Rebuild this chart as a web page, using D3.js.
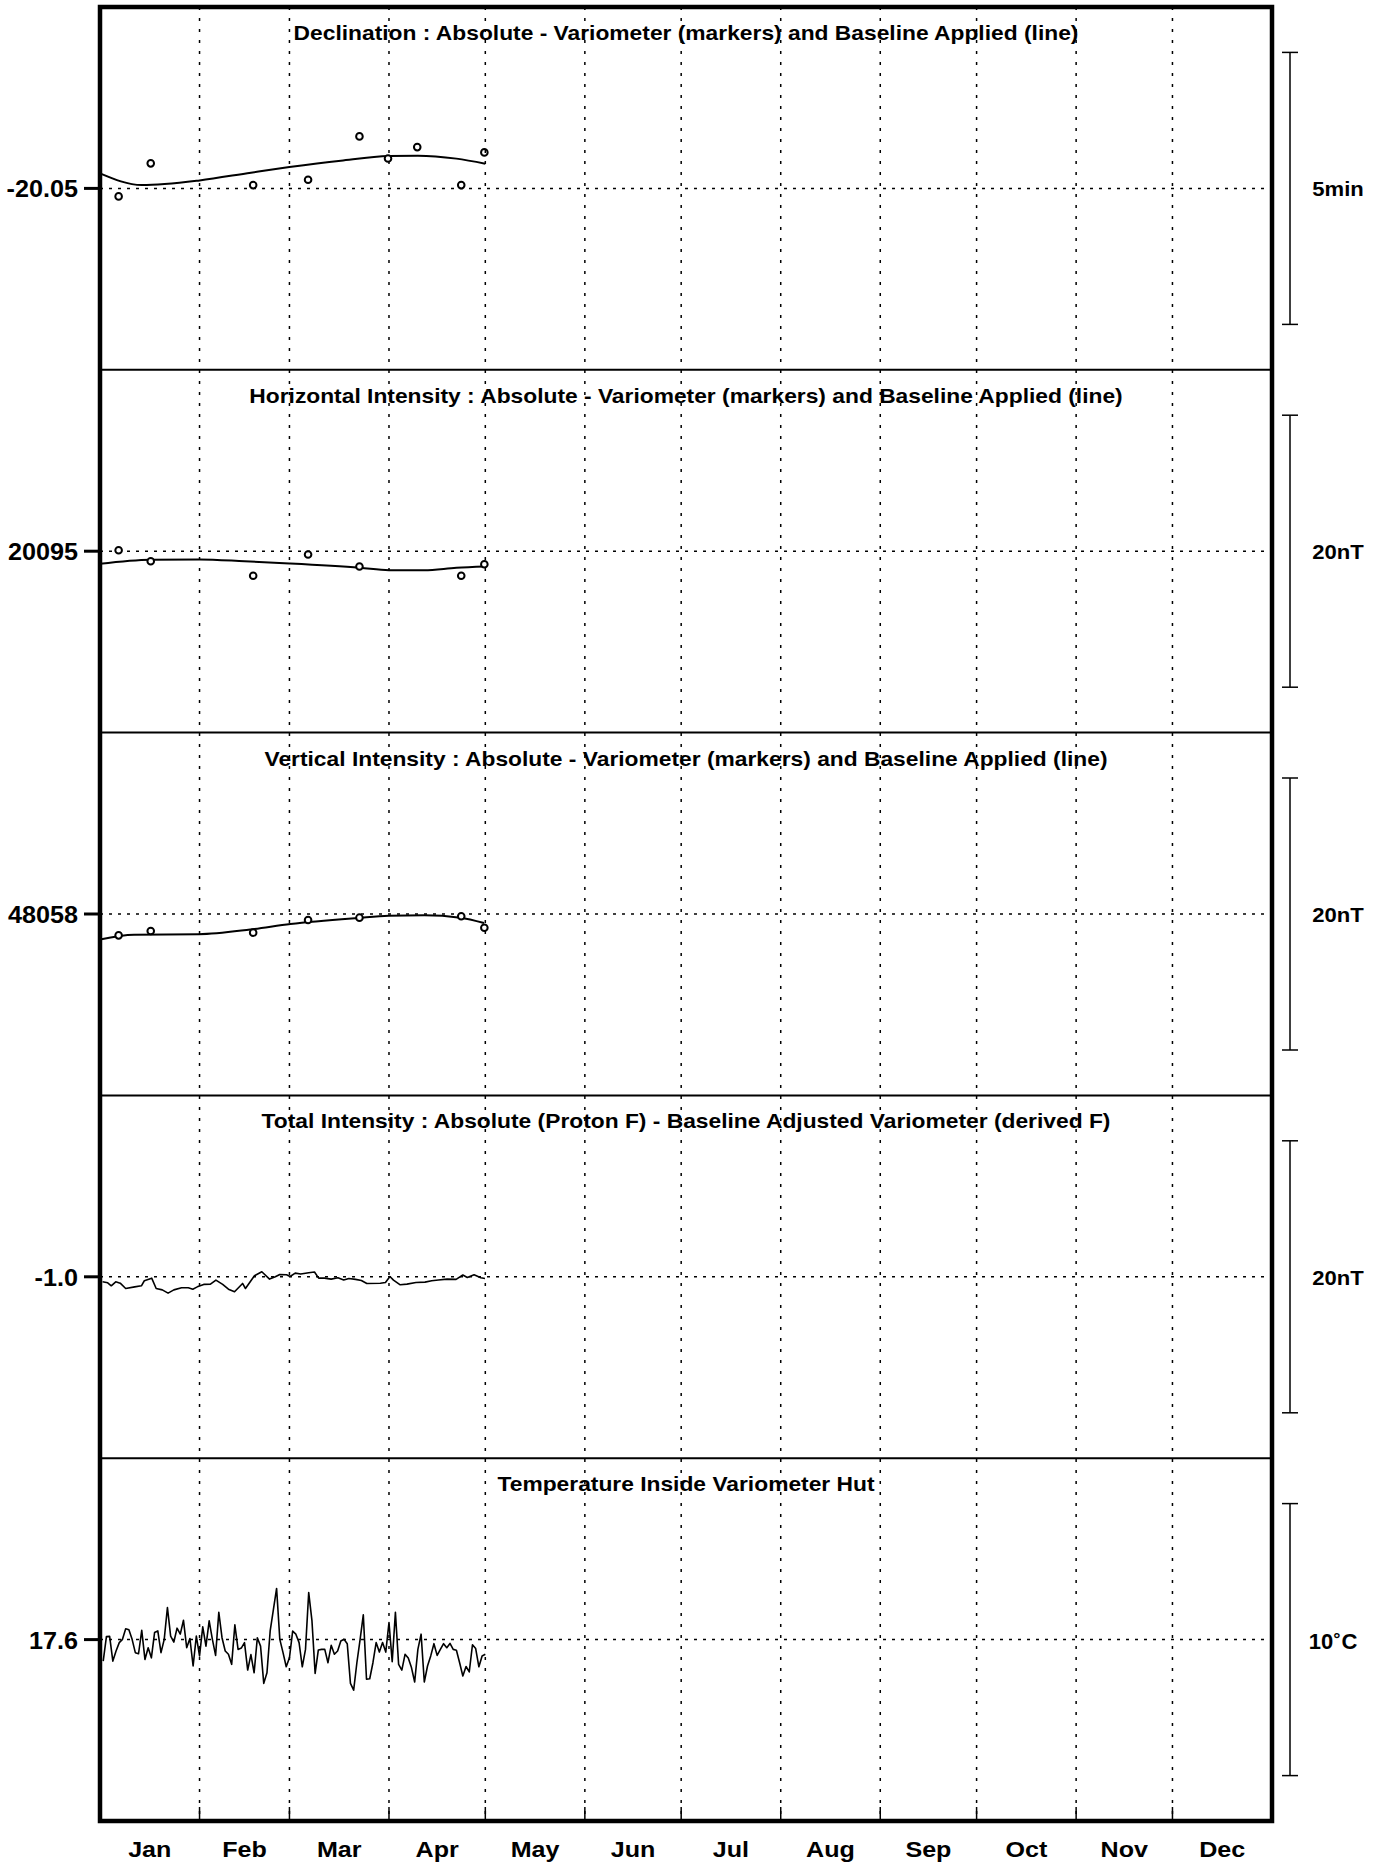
<!DOCTYPE html>
<html>
<head>
<meta charset="utf-8">
<script src="https://cdn.jsdelivr.net/npm/d3@7"></script>
<style>
  body { margin: 0; background: #fff; }
  svg text { font-family: "Liberation Sans", Arial, sans-serif; font-weight: bold; fill: #000; }
</style>
</head>
<body>
<svg id="chart" width="1388" height="1863"></svg>
<script>
// month names along the bottom
var months = ["Jan","Feb","Mar","Apr","May","Jun","Jul","Aug","Sep","Oct","Nov","Dec"]

var panelTitles = [
  "Declination : Absolute - Variometer (markers) and Baseline Applied (line)",
  "Horizontal Intensity : Absolute - Variometer (markers) and Baseline Applied (line)",
  "Vertical Intensity : Absolute - Variometer (markers) and Baseline Applied (line)",
  "Total Intensity : Absolute (Proton F) - Baseline Adjusted Variometer (derived F)",
  "Temperature Inside Variometer Hut"
]
var refValues = [-20.05, 20095, 48058, -1.0, 17.6]
var refLabels = ["-20.05", "20095", "48058", "-1.0", "17.6"]
var barLabels = ["5min", "20nT", "20nT", "20nT", "10°C"]
var barSpans = [5/60, 20, 20, 20, 10]   // degrees, nT, nT, nT, degC

// declination (degrees), day of year
var declDays = [5.8, 15.8, 47.7, 64.8, 80.8, 89.7, 98.8, 112.5, 119.7]
var declAbs = [-20.05245, -20.04233, -20.04899, -20.04733, -20.03407, -20.04082, -20.03735, -20.04899, -20.03897]
var declBaseDays = [0, 13, 31, 47, 59, 75, 90, 99, 111, 120]
var declBase = [-20.04540, -20.04898, -20.04755, -20.04518, -20.04347, -20.04150, -20.04008, -20.03997, -20.04088, -20.04242]

// H and Z (nT)
var fieldDays = [5.8, 15.8, 47.7, 64.8, 80.8, 112.5, 119.7]
var horizAbs = [20095.07, 20094.26, 20093.19, 20094.76, 20093.88, 20093.19, 20094.04]
var horizBaseDays = [0, 15.8, 31, 45, 59, 81, 90, 101, 111, 120]
var horizBase = [20094.07, 20094.37, 20094.39, 20094.26, 20094.10, 20093.78, 20093.60, 20093.60, 20093.78, 20093.87]

var vertAbs = [48056.43, 48056.75, 48056.63, 48057.56, 48057.73, 48057.83, 48056.99]
var vertBaseDays = [0, 10.6, 30.8, 46.8, 59.3, 80.2, 89.9, 101, 112.2, 119.6]
var vertBase = [48056.13, 48056.48, 48056.51, 48056.86, 48057.27, 48057.71, 48057.87, 48057.90, 48057.73, 48057.34]

// F difference (nT)
var fDays = [0.8, 2.4, 3.5, 4.9, 6.3, 8.0, 10.8, 12.9, 13.8, 16.1, 17.5, 19.4, 21.2, 23.0, 25.4, 27.5, 28.9, 30.3,
  32.3, 34.4, 36.1, 38.2, 40.0, 41.9, 43.5, 44.4, 45.3, 46.4, 48.1, 50.4, 52.8, 54.6, 56.0, 58.1, 59.2, 60.8,
  62.5, 65.0, 66.8, 68.1, 69.9, 72.0, 74.1, 75.9, 77.5, 79.6, 81.4, 83.1, 87.3, 88.9, 90.3, 91.4, 93.5, 95.6,
  98.4, 101.2, 103.3, 105.4, 108.1, 110.9, 113.0, 114.4, 116.5, 118.6, 119.9]
var fDiff = [-1.37, -1.44, -1.66, -1.37, -1.47, -1.86, -1.74, -1.66, -1.29, -1.10, -1.86, -1.96, -2.20, -1.96, -1.81, -1.81, -1.91, -1.74,
  -1.56, -1.54, -1.24, -1.56, -1.91, -2.10, -1.71, -1.49, -1.86, -1.49, -0.92, -0.63, -1.17, -1.00, -0.83, -0.85, -0.98, -0.73,
  -0.80, -0.70, -0.65, -1.10, -1.10, -1.17, -1.07, -1.24, -1.12, -1.19, -1.27, -1.49, -1.47, -1.42, -0.98, -1.24, -1.59, -1.54,
  -1.42, -1.39, -1.29, -1.24, -1.17, -1.19, -0.87, -1.05, -0.85, -1.07, -1.12]

// hut temperature (degC), one value per day from day 1
var temps = [16.81, 17.71, 17.72, 16.81, 17.18, 17.49, 17.61, 18.00, 17.96, 17.61,
  17.12, 17.08, 17.94, 16.87, 17.30, 16.93, 17.86, 17.92, 17.12, 17.61,
  18.78, 17.73, 17.51, 18.02, 17.80, 18.31, 17.30, 17.64, 16.63, 17.73,
  17.00, 18.07, 17.36, 18.29, 17.61, 17.02, 18.60, 17.67, 17.18, 17.06,
  16.69, 18.14, 17.24, 17.29, 17.49, 16.48, 17.05, 16.38, 17.67, 17.36,
  15.99, 16.38, 17.92, 18.70, 19.48, 17.61, 17.12, 16.60, 16.93, 17.91,
  17.80, 17.49, 16.60, 17.24, 19.33, 18.31, 16.36, 17.22, 17.24, 17.24,
  16.75, 17.39, 17.06, 17.18, 17.55, 17.61, 17.45, 15.99, 15.74, 16.75,
  17.60, 18.51, 16.14, 16.16, 16.75, 17.49, 17.14, 17.49, 17.14, 18.23,
  16.79, 18.60, 16.69, 16.48, 17.06, 16.92, 16.57, 16.04, 17.24, 17.80,
  16.04, 16.63, 17.00, 17.45, 17.02, 17.24, 17.45, 17.30, 17.46, 17.24,
  17.21, 16.75, 16.26, 16.61, 16.41, 17.41, 17.27, 16.60, 17.00, 17.06]

var year0 = Date.UTC(2023, 0, 1)
function dayToDate(d) { return new Date(year0 + d * 864e5) }
function pairs(days, vals) { return days.map(function(d, i){ return { date: dayToDate(d), v: vals[i] } }) }

var panels = [
  { markers: pairs(declDays, declAbs), line: pairs(declBaseDays, declBase), smooth: true },
  { markers: pairs(fieldDays, horizAbs), line: pairs(horizBaseDays, horizBase), smooth: true },
  { markers: pairs(fieldDays, vertAbs), line: pairs(vertBaseDays, vertBase), smooth: true },
  { markers: [], line: pairs(fDays, fDiff), smooth: false },
  { markers: [], line: temps.map(function(t, i){ return { date: dayToDate(i + 1), v: t } }), smooth: false }
]

const frameL = 100, frameR = 1272, frameT = 7, frameB = 1821
const panelH = (frameB - frameT) / 5
const barLen = 272

const svg = d3.select("#chart")

const x = d3.scaleUtc()
  .domain([new Date(year0), new Date(Date.UTC(2024, 0, 1))])
  .range([frameL, frameR])

const monthStarts = d3.utcMonth.range(new Date(year0), new Date(Date.UTC(2024, 0, 1)))

// stretched text, the plot font is wider than Arial
function label(x0, y0, txt, size, anchor, sx) {
  return svg.append("text")
    .attr("transform", "translate(" + x0 + "," + y0 + ") scale(" + sx + ",1)")
    .attr("text-anchor", anchor)
    .style("font-size", size + "px")
    .text(txt)
}

panels.forEach(function(p, i) {
  const pTop = frameT + i * panelH
  const cy = pTop + panelH / 2
  const y = d3.scaleLinear()
    .domain([refValues[i] - barSpans[i] / 2, refValues[i] + barSpans[i] / 2])
    .range([cy + barLen / 2, cy - barLen / 2])

  // title
  label((frameL + frameR) / 2, pTop + 33, panelTitles[i], 20, "middle", 1.14)

  // reference line
  svg.append("line")
    .attr("x1", frameL).attr("x2", frameR)
    .attr("y1", y(refValues[i])).attr("y2", y(refValues[i]))
    .attr("stroke", "#000").attr("stroke-width", 1.5)
    .attr("stroke-dasharray", "3,6")

  // left tick and label
  svg.append("line")
    .attr("x1", 84).attr("x2", frameL)
    .attr("y1", y(refValues[i])).attr("y2", y(refValues[i]))
    .attr("stroke", "#000").attr("stroke-width", 3)
  label(78, y(refValues[i]) + 9, refLabels[i], 24, "end", 1.05)

  // scale bar on the right
  const bx = 1290
  const bar = svg.append("g").attr("stroke", "#000").attr("stroke-width", 1.5)
  bar.append("line").attr("x1", bx).attr("x2", bx)
    .attr("y1", y(refValues[i] + barSpans[i] / 2)).attr("y2", y(refValues[i] - barSpans[i] / 2))
  bar.append("line").attr("x1", bx - 8).attr("x2", bx + 8)
    .attr("y1", y(refValues[i] + barSpans[i] / 2)).attr("y2", y(refValues[i] + barSpans[i] / 2))
  bar.append("line").attr("x1", bx - 8).attr("x2", bx + 8)
    .attr("y1", y(refValues[i] - barSpans[i] / 2)).attr("y2", y(refValues[i] - barSpans[i] / 2))

  const unit = barLabels[i]
  if (unit.indexOf("°") > -1) {
    // raised ring for the degree sign, as in the plot
    const parts = unit.split("°")
    const t = svg.append("text")
      .attr("transform", "translate(1333," + (cy + 9) + ")")
      .attr("text-anchor", "middle")
      .style("font-size", "22px")
    t.append("tspan").text(parts[0])
    t.append("tspan").attr("dy", -4).style("font-size", "18px").text("°")
    t.append("tspan").attr("dx", 1).attr("dy", 4).text(parts[1])
  } else {
    label(1338, cy + 8, unit, 21, "middle", 1.05)
  }

  // data
  const line = d3.line()
    .x(function(d){ return x(d.date) })
    .y(function(d){ return y(d.v) })
    .curve(p.smooth ? d3.curveMonotoneX : d3.curveLinear)
  svg.append("path")
    .datum(p.line)
    .attr("d", line)
    .attr("fill", "none")
    .attr("stroke", "#000")
    .attr("stroke-width", p.smooth ? 2 : 1.6)
    .attr("stroke-linejoin", "round")

  svg.append("g").selectAll("circle")
    .data(p.markers)
    .enter()
    .append("circle")
    .attr("cx", function(d){ return x(d.date) })
    .attr("cy", function(d){ return y(d.v) })
    .attr("r", 3.3)
    .attr("fill", "#fff")
    .attr("stroke", "#000")
    .attr("stroke-width", 2)

  // panel divider
  if (i > 0) {
    svg.append("line")
      .attr("x1", frameL).attr("x2", frameR)
      .attr("y1", pTop).attr("y2", pTop)
      .attr("stroke", "#000").attr("stroke-width", 2)
  }
})

// month grid lines
svg.append("g").selectAll("line")
  .data(monthStarts.slice(1))
  .enter()
  .append("line")
  .attr("x1", function(d){ return x(d) }).attr("x2", function(d){ return x(d) })
  .attr("y1", frameT).attr("y2", frameB)
  .attr("stroke", "#000").attr("stroke-width", 1.5)
  .attr("stroke-dasharray", "3,8")

// solid month ticks at the bottom
svg.append("g").selectAll("line")
  .data(monthStarts.slice(1))
  .enter()
  .append("line")
  .attr("x1", function(d){ return x(d) }).attr("x2", function(d){ return x(d) })
  .attr("y1", frameB - 14).attr("y2", frameB)
  .attr("stroke", "#000").attr("stroke-width", 1.5)

// month labels
monthStarts.forEach(function(m, i) {
  const mid = new Date((+m + +d3.utcMonth.offset(m, 1)) / 2)
  label(x(mid), 1857, months[i], 22, "middle", 1.14)
})

// frame
svg.append("rect")
  .attr("x", frameL).attr("y", frameT)
  .attr("width", frameR - frameL).attr("height", frameB - frameT)
  .attr("fill", "none")
  .attr("stroke", "#000").attr("stroke-width", 4.5)
</script>
</body>
</html>
